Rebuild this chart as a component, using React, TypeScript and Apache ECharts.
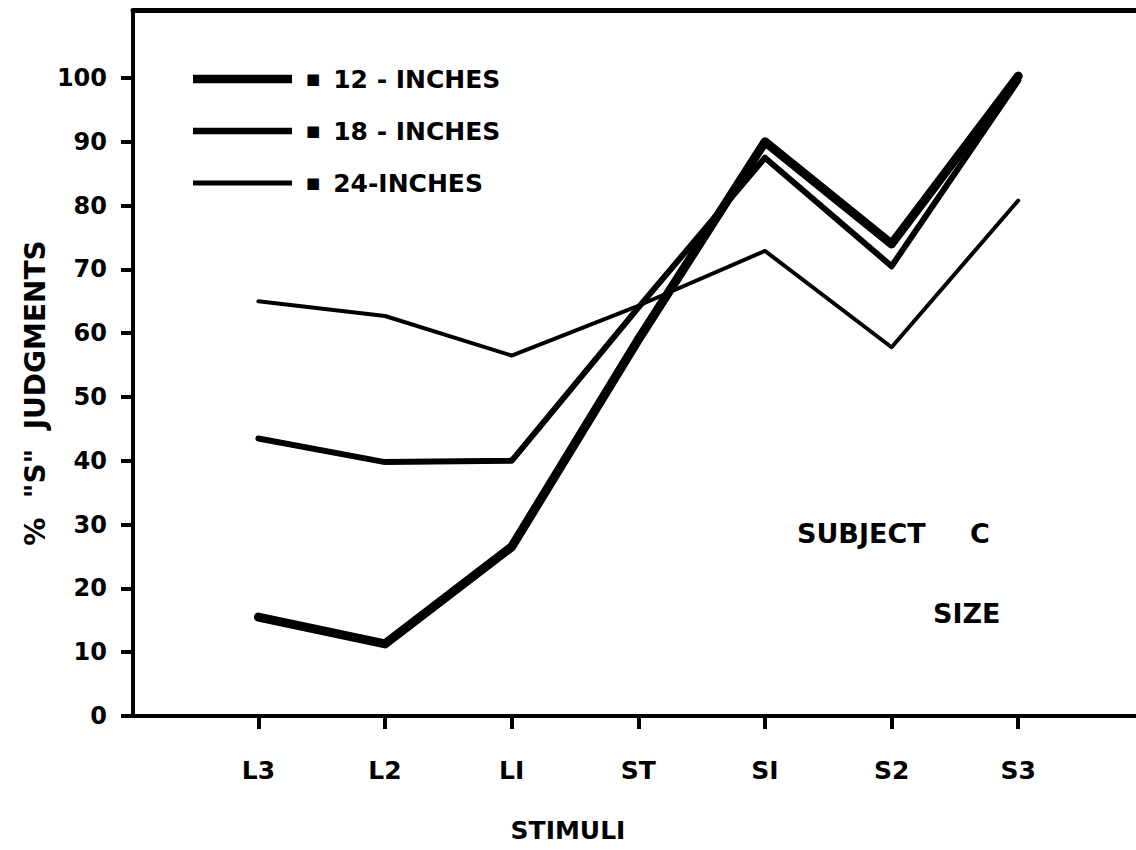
import React, { useEffect, useRef } from "react";
import * as echarts from "echarts";

const categories = ["L3", "L2", "LI", "ST", "SI", "S2", "S3"];
const yTicks = [0, 10, 20, 30, 40, 50, 60, 70, 80, 90, 100];
const seriesNames = ["12 - INCHES", "18 - INCHES", "24-INCHES"];
const values12 = [15.5, 11.3, 26.5, 59, 90, 74, 100.3];
const values18 = [43.5, 39.8, 40, 64, 87.5, 70.5, 99.6];
const values24 = [65, 62.7, 56.5, 64.3, 72.9, 57.8, 80.8];

const FONT = "DejaVu Sans";

function barIcon(thick: number) {
  const a = 10 - thick / 2;
  const b = 10 + thick / 2;
  return `path://M0,0L0.001,0L0.001,0.001ZM0,${a}L100,${a}L100,${b}L0,${b}ZM0,20L0.001,20L0.001,19.999Z`;
}

export default function App() {
  const ref = useRef<HTMLDivElement>(null);
  useEffect(() => {
    if (!ref.current) return;
    const chart = echarts.init(ref.current, null, { renderer: "svg" });
    const toData = (vals: number[]) => vals.map((v, i) => [i, v]);
    const widths = [9, 6, 4];
    const legendThick = [8.5, 6.5, 5];
    const allVals = [values12, values18, values24];
    const xIdx = categories.map((_, i) => i);
    const textFont = (size: number) => `bold ${size}px "${FONT}"`;
    chart.setOption({
      animation: false,
      backgroundColor: "#fff",
      grid: { left: 133, top: 10, right: 0, bottom: 134 },
      legend: {
        orient: "vertical",
        left: 188,
        top: 59,
        itemWidth: 99,
        itemHeight: 20,
        itemGap: 22,
        selectedMode: false,
        data: seriesNames.map((name, k) => ({ name, icon: barIcon(legendThick[k]) })),
        formatter: (name: string) => `{m|■}{t|${name}}`,
        textStyle: {
          color: "#000",
          fontFamily: FONT,
          fontWeight: "bold",
          fontSize: 25,
          lineHeight: 30,
          rich: {
            m: { fontSize: 15, fontFamily: FONT, color: "#000", padding: [0, 13, 0, 9] },
            t: { fontSize: 25, fontWeight: "bold", fontFamily: FONT, color: "#000" },
          },
        },
      },
      xAxis: [
        {
          type: "value",
          min: -0.99,
          max: 6.93,
          position: "bottom",
          splitLine: { show: false },
          axisLine: { show: true, onZero: false, lineStyle: { color: "#000", width: 4 } },
          axisTick: {
            show: true,
            customValues: xIdx,
            length: 13,
            lineStyle: { color: "#000", width: 4 },
          },
          axisLabel: {
            customValues: xIdx,
            margin: 42,
            color: "#000",
            fontFamily: FONT,
            fontWeight: "bold",
            fontSize: 25,
            formatter: (v: number) => categories[Math.round(v)] ?? "",
          },
        },
        {
          type: "value",
          min: -0.99,
          max: 6.93,
          position: "top",
          splitLine: { show: false },
          axisLine: { show: true, onZero: false, lineStyle: { color: "#000", width: 5 } },
          axisTick: { show: false },
          axisLabel: { show: false },
        },
      ],
      yAxis: {
        type: "value",
        min: 0,
        max: 110.66,
        interval: 10,
        splitLine: { show: false },
        axisLine: { show: true, onZero: false, lineStyle: { color: "#000", width: 4 } },
        axisTick: {
          show: true,
          customValues: yTicks,
          length: 12,
          lineStyle: { color: "#000", width: 4 },
        },
        axisLabel: {
          customValues: yTicks,
          margin: 26,
          color: "#000",
          fontFamily: FONT,
          fontWeight: "bold",
          fontSize: 24,
        },
      },
      series: seriesNames.map((name, k) => ({
        name,
        type: "line",
        xAxisIndex: 0,
        data: toData(allVals[k]),
        symbol: "none",
        lineStyle: { color: "#000", width: widths[k], cap: "round", join: "round" },
        itemStyle: { color: "#000" },
        z: 3 - k,
      })),
      graphic: [
        {
          type: "text",
          x: 35,
          y: 393,
          rotation: Math.PI / 2,
          style: {
            text: '%  "S"  JUDGMENTS',
            fill: "#000",
            font: textFont(28),
            align: "center",
            verticalAlign: "middle",
          },
        },
        {
          type: "text",
          x: 568,
          y: 830,
          style: {
            text: "STIMULI",
            fill: "#000",
            font: textFont(25),
            align: "center",
            verticalAlign: "middle",
          },
        },
        {
          type: "text",
          x: 797,
          y: 533,
          style: { text: "SUBJECT", fill: "#000", font: textFont(27), align: "left", verticalAlign: "middle" },
        },
        {
          type: "text",
          x: 970,
          y: 533,
          style: { text: "C", fill: "#000", font: textFont(27), align: "left", verticalAlign: "middle" },
        },
        {
          type: "text",
          x: 933,
          y: 613,
          style: { text: "SIZE", fill: "#000", font: textFont(27), align: "left", verticalAlign: "middle" },
        },
      ],
    });
    return () => chart.dispose();
  }, []);
  return (
    <div
      ref={ref}
      style={{ position: "fixed", left: 0, top: 0, width: 1136, height: 850, background: "#fff" }}
    />
  );
}
